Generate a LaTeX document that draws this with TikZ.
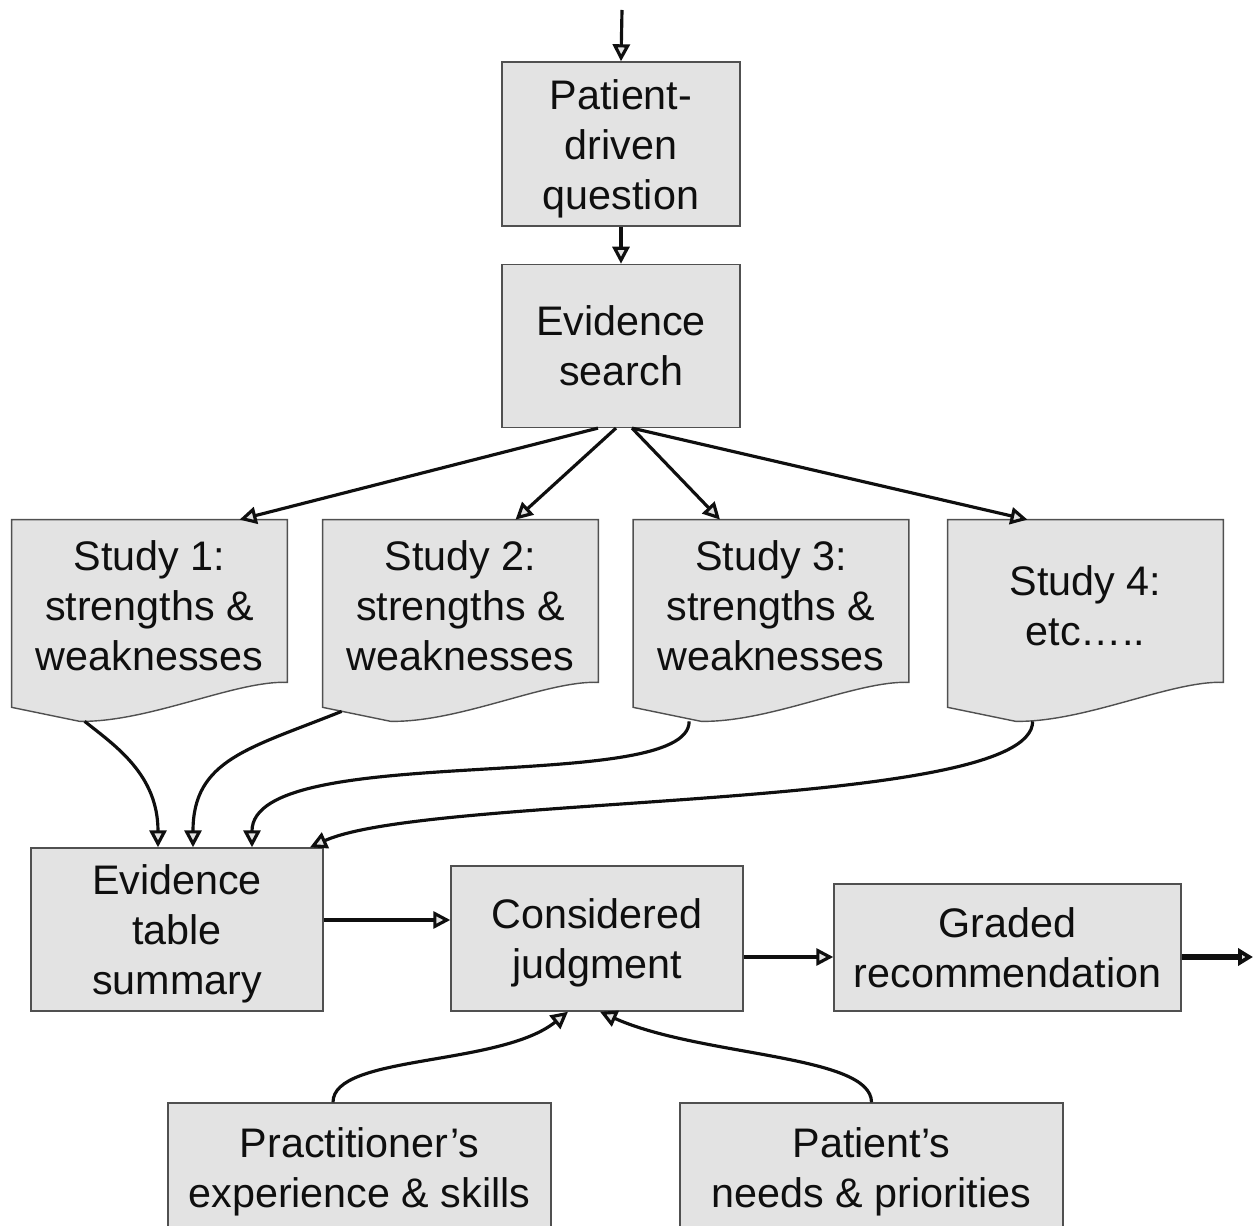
\documentclass[tikz,border=0pt]{standalone}
\usepackage{fontspec}
\setmainfont{Liberation Sans}
\usepackage{tikz}
\usetikzlibrary{arrows.meta,positioning,backgrounds}

\definecolor{boxfill}{RGB}{227,227,227}
\definecolor{boxline}{RGB}{80,80,80}
\definecolor{inkline}{RGB}{15,15,15}

% study box with a wavy lower edge, drawn behind its node
\newcommand{\studysheet}[1]{%
  \draw[sheet] (#1.north west) -- (#1.north east) -- (#1.south east)
    .. controls +(-1.04,0.04) and +(1.4,-0.02) .. ([shift={(1.36,-0.78)}]#1.south west) coordinate (#1-low)
    -- ([yshift=-0.5cm]#1.south west) -- cycle;}
% pushes the lines of a box a little down
\newcommand{\toppad}{\rule{0pt}{22pt}}

\begin{document}
\begin{tikzpicture}[
  node distance=7.4mm,
  box/.style={draw=boxline, fill=boxfill, line width=0.8pt, align=center, inner sep=2pt,
    text=inkline, font=\fontsize{23.5}{28.45}\selectfont},
  study/.style={align=center, inner sep=2pt, minimum width=5.5cm, minimum height=3.24cm,
    text=inkline, font=\fontsize{23.5}{28.45}\selectfont},
  sheet/.style={draw=boxline, fill=boxfill, line width=0.8pt},
  arrow/.style={-{Triangle[length=3.4mm,width=3.4mm,fill=boxfill]}, line width=1.8pt, draw=inkline},
  bigarrow/.style={-{Triangle[length=3mm,width=3.4mm,fill=boxfill]}, line width=3pt, draw=inkline}
]
\useasboundingbox (0,0) rectangle (25.06,-24.52);

\coordinate (in) at (12.44,-0.2);
\node[box, minimum width=4.76cm, minimum height=3.28cm] (question) at (12.42,-2.88) {\toppad Patient-\\driven\\question};
\node[box, minimum width=4.76cm, minimum height=3.26cm, below=of question] (search) {Evidence\\search};

\node[study] (s1) at (2.99,-12.02) {\toppad Study 1:\\strengths \&\\weaknesses};
\node[study] (s2) at (9.21,-12.02) {\toppad Study 2:\\strengths \&\\weaknesses};
\node[study] (s3) at (15.42,-12.02) {\toppad Study 3:\\strengths \&\\weaknesses};
\node[study] (s4) at (21.71,-12.02) {\toppad Study 4:\\etc….. };
\begin{scope}[on background layer]
  \studysheet{s1}
  \studysheet{s2}
  \studysheet{s3}
  \studysheet{s4}
\end{scope}

\node[box, minimum width=5.84cm, minimum height=3.26cm] (table) at (3.54,-18.59) {\toppad Evidence\\table\\summary};
\node[box, minimum width=5.84cm, minimum height=2.9cm] (judge) at (11.94,-18.77) {\toppad Considered\\judgment};
\node[box, minimum width=6.94cm, minimum height=2.54cm] (graded) at (20.15,-18.95) {Graded\\recommendation};
\coordinate (out) at (25.06,-19.14);

\node[box, minimum width=7.66cm, minimum height=2.56cm] (pract) at (7.19,-23.34) {\toppad Practitioner’s\\experience \& skills};
\node[box, minimum width=7.66cm, minimum height=2.56cm] (needs) at (17.43,-23.34) {\toppad Patient’s\\needs \& priorities};

% question and search
\draw[arrow] (in) -- (question.north);
\draw[arrow] (question) -- (search);

% search fans out to the studies
\draw[arrow] ([xshift=-0.46cm]search.south) -- ([xshift=1.8cm]s1.north);
\draw[arrow] ([xshift=-0.1cm]search.south) -- ([xshift=1.1cm]s2.north);
\draw[arrow] ([xshift=0.22cm]search.south) -- ([xshift=-1.02cm]s3.north);
\draw[arrow] ([xshift=0.22cm]search.south) -- ([xshift=-1.16cm]s4.north);

% studies collected in the table
\draw[arrow] ([xshift=0.1cm]s1-low) .. controls +(0.6,-0.48) and +(0,1.46) .. ([xshift=-0.38cm]table.north);
\draw[arrow] ([shift={(-0.98,0.2)}]s2-low) .. controls +(-1.84,-0.74) and +(0,1.76) .. ([xshift=0.32cm]table.north);
\draw[arrow] ([xshift=-0.24cm]s3-low) .. controls +(0,-1.5) and +(0,2.16) .. ([xshift=1.5cm]table.north);
\draw[arrow] ([xshift=0.34cm]s4-low) .. controls +(0,-1.8) and +(2.4,1.08) .. ([xshift=2.66cm]table.north);

% table to judgment to grade
\draw[arrow] ([yshift=0.19cm]table.east) -- ([yshift=0.19cm]table.east -| judge.west);
\draw[arrow] ([yshift=-0.37cm]judge.east) -- ([yshift=-0.37cm]judge.east -| graded.west);
\draw[bigarrow] (graded.east |- out) -- (out);

% inputs to the judgment
\draw[arrow] ([xshift=-0.53cm]pract.north) .. controls +(0,0.96) and +(-1.36,-1.1) .. ([xshift=-0.58cm]judge.south);
\draw[arrow] (needs.north) .. controls +(0,0.96) and +(2.0,-0.9) .. ([xshift=0.06cm]judge.south);
\end{tikzpicture}
\end{document}
